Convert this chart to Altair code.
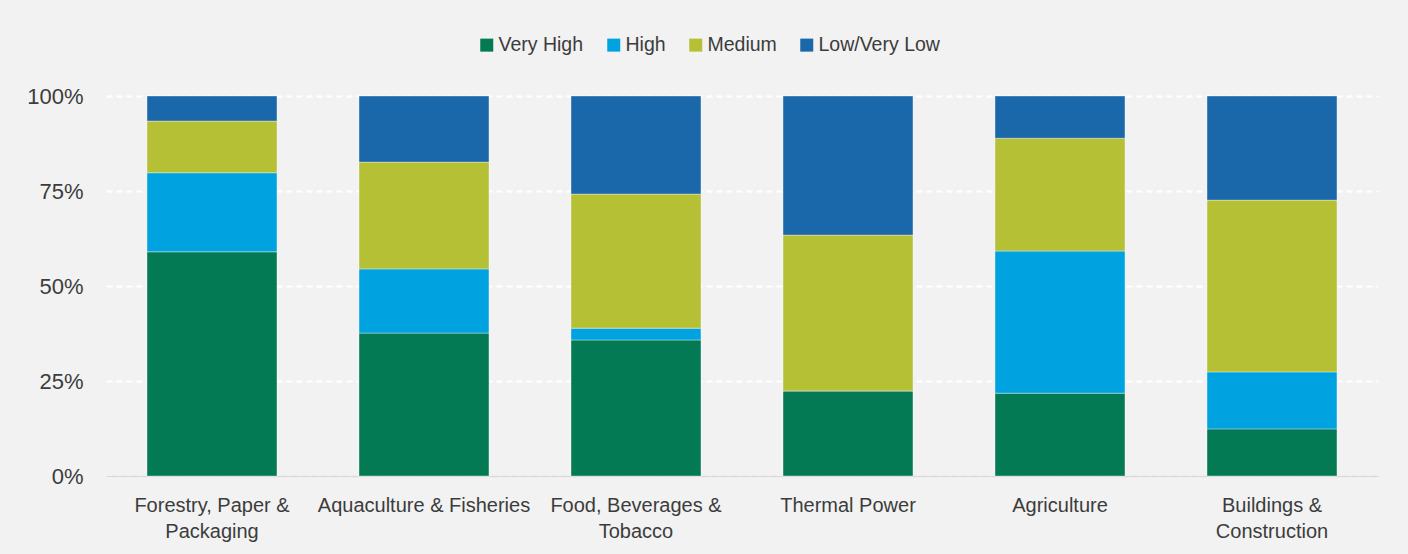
import json
import altair as alt
import pandas as pd

categories = [
    "Forestry, Paper & Packaging",
    "Aquaculture & Fisheries",
    "Food, Beverages & Tobacco",
    "Thermal Power",
    "Agriculture",
    "Buildings & Construction",
]
label_lines = [
    ["Forestry, Paper &", "Packaging"],
    ["Aquaculture & Fisheries"],
    ["Food, Beverages &", "Tobacco"],
    ["Thermal Power"],
    ["Agriculture"],
    ["Buildings &", "Construction"],
]
levels = ["Very High", "High", "Medium", "Low/Very Low"]
colors = ["#037A53", "#00A3E0", "#B5C035", "#1A67AA"]

very_high = [59.0, 37.6, 35.8, 22.4, 21.8, 12.4]
high = [20.8, 16.9, 3.1, 0.0, 37.4, 15.0]
medium = [13.6, 28.1, 35.3, 41.0, 29.7, 45.2]
low = [6.6, 17.4, 25.8, 36.6, 11.1, 27.4]

series = [very_high, high, medium, low]
rows = []
for li, (lvl, vals) in enumerate(zip(levels, series)):
    for cat, v in zip(categories, vals):
        rows.append({"category": cat, "level": lvl, "idx": li, "value": v})
df = pd.DataFrame(rows)

label_map = json.dumps(dict(zip(categories, label_lines)))
label_expr = f"{label_map}[datum.value]"

FONT = "Liberation Sans"
TXT = "#3c3c3c"

chart = alt.Chart(df).mark_bar(
    stroke="white", strokeWidth=0.8, strokeOpacity=0.45
).encode(
    x=alt.X(
        "category:N",
        sort=categories,
        title=None,
        scale=alt.Scale(paddingInner=0.387, paddingOuter=0.1935),
        axis=alt.Axis(
            labelAngle=0,
            labelExpr=label_expr,
            labelFontSize=20,
            labelLineHeight=26,
            labelPadding=19,
            labelLimit=0,
            labelColor=TXT,
            labelFont=FONT,
            ticks=False,
            domainColor="#d9d9d9",
            domainWidth=1.5,
            grid=False,
        ),
    ),
    y=alt.Y(
        "value:Q",
        stack="normalize",
        title=None,
        scale=alt.Scale(domain=[0, 1]),
        axis=alt.Axis(
            values=[0, 0.25, 0.5, 0.75, 1],
            format=".0%",
            labelFontSize=22,
            labelPadding=23,
            labelColor=TXT,
            labelFont=FONT,
            ticks=False,
            domain=False,
            grid=True,
            gridColor="white",
            gridDash=[6, 4],
            gridWidth=2,
        ),
    ),
    color=alt.Color(
        "level:N",
        sort=levels,
        scale=alt.Scale(domain=levels, range=colors),
        legend=alt.Legend(
            title=None,
            orient="none",
            direction="horizontal",
            legendX=371,
            legendY=-61,
            symbolType="square",
            symbolSize=169,
            symbolStrokeWidth=0,
            symbolOpacity=1,
            labelFontSize=19.5,
            labelFont=FONT,
            labelColor=TXT,
            labelOffset=2,
            columnPadding=20,
        ),
    ),
    order=alt.Order("idx:Q", sort="ascending"),
).properties(
    width=1272,
    height=380,
    autosize=alt.AutoSizeParams(type="none"),
    padding={"left": 106, "top": 96, "right": 30, "bottom": 78},
).configure(
    background="#f2f2f2",
).configure_view(
    stroke=None,
    fill=None,
)

chart.save("out.html", embed_options={"renderer": "svg", "actions": False})
